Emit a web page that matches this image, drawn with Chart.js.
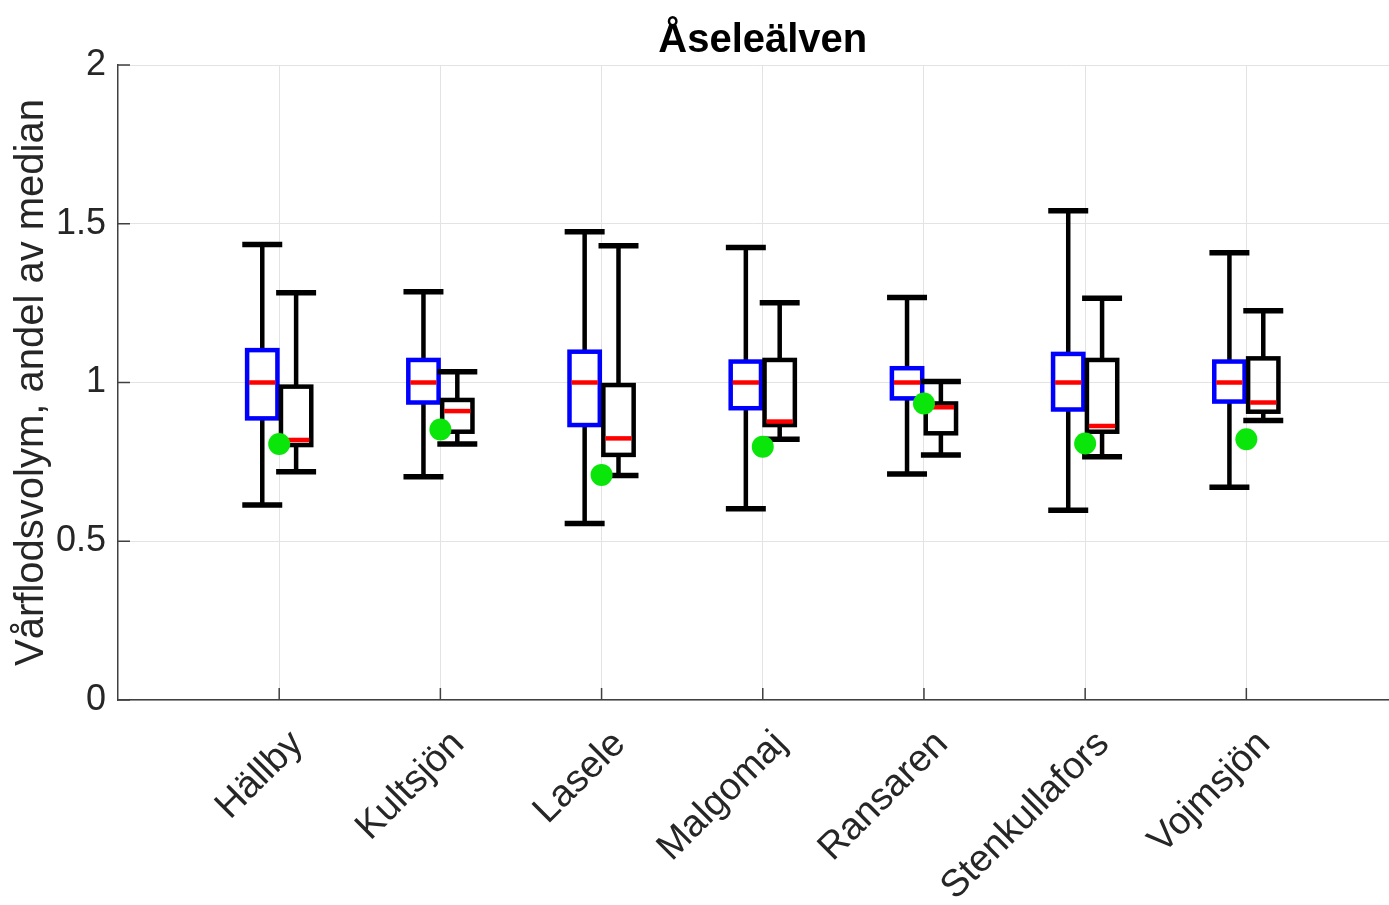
<!DOCTYPE html>
<html>
<head>
<meta charset="utf-8">
<script src="https://cdn.jsdelivr.net/npm/chart.js@4.4.1/dist/chart.umd.min.js"></script>
<style>
  html, body { margin: 0; padding: 0; background: #fff; overflow: hidden; }
  #wrap { width: 1389px; height: 905px; }
</style>
</head>
<body>
<div id="wrap"><canvas id="c" width="1389" height="905"></canvas></div>
<script>
// Stations along Åseleälven
const stations = ['Hällby', 'Kultsjön', 'Lasele', 'Malgomaj', 'Ransaren', 'Stenkullafors', 'Vojmsjön'];

// Reference period (blue boxes): whisker ends, quartiles, median
const refLow  = [0.614, 0.703, 0.556, 0.602, 0.712, 0.598, 0.670];
const refQ1   = [0.887, 0.937, 0.866, 0.919, 0.950, 0.915, 0.940];
const refMed  = [1.000, 1.000, 1.000, 1.000, 1.000, 1.000, 1.000];
const refQ3   = [1.102, 1.071, 1.097, 1.066, 1.045, 1.090, 1.066];
const refHigh = [1.435, 1.286, 1.475, 1.425, 1.268, 1.541, 1.409];

// Scenario period (black boxes)
const scenLow  = [0.719, 0.806, 0.707, 0.821, 0.772, 0.766, 0.880];
const scenQ1   = [0.803, 0.845, 0.772, 0.866, 0.840, 0.845, 0.908];
const scenMed  = [0.819, 0.910, 0.824, 0.877, 0.922, 0.863, 0.937];
const scenQ3   = [0.987, 0.945, 0.992, 1.071, 0.934, 1.071, 1.076];
const scenHigh = [1.283, 1.034, 1.431, 1.251, 1.003, 1.265, 1.226];

// Single-year value (green dots)
const single = [0.806, 0.852, 0.709, 0.798, 0.934, 0.808, 0.821];

const yTicks = [0, 0.5, 1, 1.5, 2];

const FONT = "'Liberation Sans', Arial, Helvetica, sans-serif";
const AXIS_COLOR = '#404040';
const GRID_COLOR = '#e3e3e3';
const X_FULL = 8; // full axis extent; the canvas shows the part up to X_MAX
const X_MAX = 7.885;

// Draws the box-and-whisker groups through the chart's scales
const boxWhiskerPlugin = {
  id: 'boxWhisker',
  afterLayout(chart) {
    // centre the title over the full axes width
    const x = chart.scales.x;
    if (chart.titleBlock) {
      const l = x.getPixelForValue(0);
      const r = x.getPixelForValue(X_FULL);
      chart.titleBlock.left = l;
      chart.titleBlock.right = r;
      chart.titleBlock.width = r - l;
    }
  },
  beforeDatasetsDraw(chart) {
    const { ctx, scales: { x, y } } = chart;
    const groups = [
      { off: -0.105, low: refLow, q1: refQ1, med: refMed, q3: refQ3, high: refHigh, edge: '#0000ff' },
      { off: 0.105, low: scenLow, q1: scenQ1, med: scenMed, q3: scenQ3, high: scenHigh, edge: '#000000' }
    ];
    const halfBox = 0.094;
    const halfCap = 0.124;
    ctx.save();
    ctx.lineCap = 'butt';
    ctx.lineJoin = 'miter';
    groups.forEach(g => {
      stations.forEach((_, i) => {
        const c = i + 1 + g.off;
        const cx = x.getPixelForValue(c);
        const bl = x.getPixelForValue(c - halfBox);
        const br = x.getPixelForValue(c + halfBox);
        const cl = x.getPixelForValue(c - halfCap);
        const cr = x.getPixelForValue(c + halfCap);
        const pLow = y.getPixelForValue(g.low[i]);
        const pQ1 = y.getPixelForValue(g.q1[i]);
        const pMed = y.getPixelForValue(g.med[i]);
        const pQ3 = y.getPixelForValue(g.q3[i]);
        const pHigh = y.getPixelForValue(g.high[i]);

        // whiskers
        ctx.strokeStyle = '#000';
        ctx.lineWidth = 4.5;
        ctx.beginPath();
        ctx.moveTo(cx, pHigh); ctx.lineTo(cx, pQ3);
        ctx.moveTo(cx, pQ1); ctx.lineTo(cx, pLow);
        ctx.stroke();
        // whisker caps
        ctx.lineWidth = 5.5;
        ctx.beginPath();
        ctx.moveTo(cl, pHigh); ctx.lineTo(cr, pHigh);
        ctx.moveTo(cl, pLow); ctx.lineTo(cr, pLow);
        ctx.stroke();
        // box
        ctx.strokeStyle = g.edge;
        ctx.lineWidth = 4.5;
        ctx.strokeRect(bl, pQ3, br - bl, pQ1 - pQ3);
        // median
        ctx.strokeStyle = '#ff0000';
        ctx.lineWidth = 4.5;
        ctx.beginPath();
        ctx.moveTo(bl + 2, pMed); ctx.lineTo(br - 2, pMed);
        ctx.stroke();
      });
    });
    ctx.restore();
  },
  afterDraw(chart) {
    // inward tick marks on the axes
    const { ctx, chartArea: a, scales: { x, y } } = chart;
    ctx.save();
    ctx.strokeStyle = AXIS_COLOR;
    ctx.lineWidth = 1.5;
    ctx.beginPath();
    yTicks.forEach(v => {
      const py = y.getPixelForValue(v);
      ctx.moveTo(a.left, py); ctx.lineTo(a.left + 12, py);
    });
    stations.forEach((_, i) => {
      const px = x.getPixelForValue(i + 1);
      ctx.moveTo(px, a.bottom); ctx.lineTo(px, a.bottom - 12);
    });
    ctx.stroke();
    ctx.restore();
  }
};

new Chart(document.getElementById('c'), {
  type: 'scatter',
  data: {
    datasets: [{
      data: single.map((v, i) => ({ x: i + 1, y: v })),
      pointRadius: 11,
      pointHoverRadius: 11,
      pointBackgroundColor: '#0ae60a',
      pointBorderWidth: 0
    }]
  },
  options: {
    responsive: false,
    animation: false,
    events: [],
    layout: { padding: 0, autoPadding: false },
    plugins: {
      legend: { display: false },
      tooltip: { enabled: false },
      title: {
        display: true,
        text: 'Åseleälven',
        color: '#000',
        font: { family: FONT, size: 40, weight: 'bold' },
        padding: { top: 17, bottom: 0 }
      }
    },
    scales: {
      x: {
        type: 'linear',
        min: 0,
        max: X_MAX,
        afterBuildTicks(s) { s.ticks = stations.map((_, i) => ({ value: i + 1 })); },
        afterFit(s) { s.height = 205; },
        ticks: {
          autoSkip: false,
          minRotation: 45,
          maxRotation: 45,
          padding: 22,
          labelOffset: 18,
          color: '#262626',
          font: { family: FONT, size: 38 },
          callback: v => stations[v - 1]
        },
        grid: { color: GRID_COLOR, lineWidth: 1, drawTicks: false },
        border: { display: true, color: AXIS_COLOR, width: 1.5 }
      },
      y: {
        min: 0,
        max: 2,
        afterBuildTicks(s) { s.ticks = yTicks.map(v => ({ value: v })); },
        afterFit(s) { s.width = 118; },
        ticks: {
          padding: 12,
          color: '#262626',
          font: { family: FONT, size: 36 },
          callback: v => String(v)
        },
        grid: { color: GRID_COLOR, lineWidth: 1, drawTicks: false },
        border: { display: true, color: AXIS_COLOR, width: 1.5 },
        title: {
          display: true,
          text: 'Vårflodsvolym, andel av median',
          color: '#262626',
          font: { family: FONT, size: 40 },
          padding: { top: 8, bottom: 0 }
        }
      }
    }
  },
  plugins: [boxWhiskerPlugin]
});
</script>
</body>
</html>
